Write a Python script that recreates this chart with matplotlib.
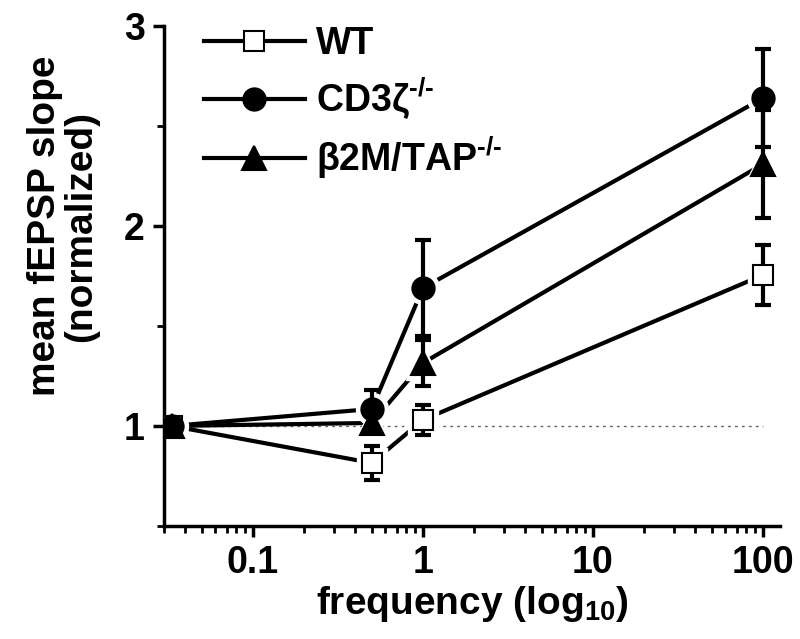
import numpy as np
import matplotlib
matplotlib.use("Agg")
import matplotlib.pyplot as plt
from matplotlib.lines import Line2D
from matplotlib.ticker import FixedLocator, LogLocator, MultipleLocator, FuncFormatter

plt.rcParams['font.family'] = ['Liberation Sans', 'DejaVu Sans']
plt.rcParams['font.weight'] = 'bold'
plt.rcParams['mathtext.fontset'] = 'custom'
plt.rcParams['mathtext.rm'] = 'Liberation Sans:bold'
plt.rcParams['mathtext.it'] = 'Liberation Sans:bold'
plt.rcParams['mathtext.bf'] = 'Liberation Sans:bold'

# data
freq = [1 / 30, 0.5, 1, 100]

wt = [1.0, 0.815, 1.03, 1.755]
wt_err = [0.02, 0.085, 0.075, 0.15]

cd3 = [1.0, 1.085, 1.69, 2.64]
cd3_err = [0.02, 0.095, 0.24, 0.245]

b2m = [1.0, 1.015, 1.315, 2.31]
b2m_err = [0.02, 0.05, 0.115, 0.27]

labels = ['WT', r'CD3ζ$^{\text{-/-}}$', r'β2M/TAP$^{\text{-/-}}$']

fig = plt.figure(figsize=(8, 6.39), dpi=100)
ax = fig.add_axes([0.205, 0.177, 0.77, 0.782])

ax.hlines(1, freq[0], freq[-1], colors='0.4', linestyles=(0, (2, 3)), lw=1, zorder=0)

styles = [('s', 15, 'white'), ('o', 16, 'black'), ('^', 17, 'black')]
series = [(wt, wt_err), (cd3, cd3_err), (b2m, b2m_err)]

handles = []
for (y, err), (m, ms, fc), lab in zip(series, styles, labels):
    ax.plot(freq, y, '-', color='black', lw=3, zorder=1)
    ax.plot(freq, y, ls='none', marker=m, ms=ms + 7, mfc='white', mec='white', zorder=2)
    ax.errorbar(freq, y, yerr=err, fmt='none', ecolor='black', elinewidth=3,
                capsize=6, capthick=3, zorder=3)
    ax.plot(freq, y, ls='none', marker=m, ms=ms, mfc=fc, mec='black', mew=1.5, zorder=4)
    handles.append(Line2D([], [], color='black', lw=3, marker=m, ms=ms,
                          mfc=fc, mec='black', mew=1.5, label=lab))

ax.set_xscale('log')
ax.set_xlim(0.03, 126)
ax.set_ylim(0.5, 3)

ax.xaxis.set_major_locator(FixedLocator([0.1, 1, 10, 100]))
ax.xaxis.set_major_formatter(FuncFormatter(lambda v, p: '%g' % v))
ax.xaxis.set_minor_locator(LogLocator(base=10, subs=np.arange(2, 10)))
ax.yaxis.set_major_locator(FixedLocator([1, 2, 3]))
ax.yaxis.set_minor_locator(MultipleLocator(0.5))

for s in ['top', 'right']:
    ax.spines[s].set_visible(False)
for s in ['left', 'bottom']:
    ax.spines[s].set_linewidth(2.5)

ax.tick_params(which='major', length=8, width=2.5, labelsize=27, pad=6)
ax.tick_params(which='minor', length=5, width=2)

ax.set_xlabel('frequency (log$_{10}$)', fontsize=28, fontweight='bold', labelpad=2)
ax.set_ylabel('mean fEPSP slope\n(normalized)', fontsize=28, fontweight='bold',
              linespacing=1.0)
ax.yaxis.set_label_coords(-0.105, 0.6)

ax.legend(handles=handles, loc='upper left', bbox_to_anchor=(0.04, 1.03),
          frameon=False, fontsize=27, handlelength=2.7, handletextpad=0.3,
          labelspacing=0.35, borderaxespad=0)

fig.savefig('out.png', dpi=100)
